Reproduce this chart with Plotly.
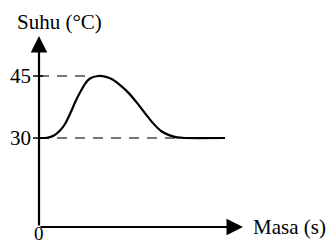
import plotly.graph_objects as go

# Data (time in arbitrary units, temperature in °C)
masa = [0, 0.8, 1.5, 2.1, 2.6, 3.1, 3.6, 4.1, 4.6, 5.1, 5.9, 6.7, 7.4, 8.2, 9.0, 9.8, 10.6, 11.4, 12.2, 13.0, 13.8, 14.6, 18.6]
suhu = [30, 30.05, 30.6, 31.8, 33.4, 35.8, 38.6, 41.0, 43.1, 44.4, 45.0, 44.8, 44.1, 42.6, 40.8, 38.5, 36.0, 33.6, 31.7, 30.7, 30.15, 30.0, 30.0]

tick_vals = [30, 45]
tick_text = ["30", "45"]
peak_masa = 4.9      # where the 45 dashed guide meets the curve
settle_masa = 13.9   # where the 30 dashed guide meets the curve

x_axis_y = 8.47
y_axis_top = 54.68
x_axis_end = 20.4

FONT = "Liberation Serif"
fig = go.Figure()

# dashed guides
for xe, v in [(peak_masa, 45), (settle_masa, 30)]:
    fig.add_trace(go.Scatter(x=[0, xe], y=[v, v], mode="lines",
                             line=dict(color="#4a4a4a", width=1.5, dash="10px,8px"),
                             hoverinfo="skip", showlegend=False))

# curve
fig.add_trace(go.Scatter(x=masa, y=suhu, mode="lines",
                         line=dict(color="black", width=2.2, shape="spline", smoothing=0.6),
                         showlegend=False))

annotations = [
    dict(x=0, y=y_axis_top, ax=0, ay=x_axis_y, xref="x", yref="y", axref="x", ayref="y",
         showarrow=True, arrowhead=2, arrowsize=1.5, arrowwidth=2.2, arrowcolor="black", text=""),
    dict(x=x_axis_end, y=x_axis_y, ax=0, ay=x_axis_y, xref="x", yref="y", axref="x", ayref="y",
         showarrow=True, arrowhead=2, arrowsize=1.5, arrowwidth=2.2, arrowcolor="black", text=""),
    dict(x=2.0, y=58.1, xref="x", yref="y", text="Suhu (°C)", showarrow=False,
         font=dict(family=FONT, size=21, color="black"), xanchor="center", yanchor="middle"),
    dict(x=21.2, y=x_axis_y, xref="x", yref="y", text="Masa (s)", showarrow=False,
         font=dict(family=FONT, size=21, color="black"), xanchor="left", yanchor="middle"),
    dict(x=0, y=4.6, xref="x", yref="y", text="0", showarrow=False,
         font=dict(family=FONT, size=19, color="black"), xanchor="center", yanchor="bottom",
         yshift=-3),
]
for v, t in zip(tick_vals, tick_text):
    annotations.append(dict(x=-0.6, y=v, xref="x", yref="y", text=t, showarrow=False,
                            font=dict(family=FONT, size=21, color="black"),
                            xanchor="right", yanchor="middle"))

shapes = [dict(type="line", xref="x", yref="y", x0=-0.6, x1=0.4, y0=v, y1=v,
               line=dict(color="black", width=1.5)) for v in tick_vals]

fig.update_layout(
    width=331, height=243,
    margin=dict(l=0, r=0, t=0, b=0),
    paper_bgcolor="white", plot_bgcolor="white",
    xaxis=dict(range=[-3.9, 29.2], visible=False),
    yaxis=dict(range=[4.6, 63.39], visible=False),
    annotations=annotations,
    shapes=shapes,
    showlegend=False,
)

fig.write_html("out.html", config={"displayModeBar": False},
               post_script="document.body.style.margin='0';document.body.style.overflow='hidden';")
